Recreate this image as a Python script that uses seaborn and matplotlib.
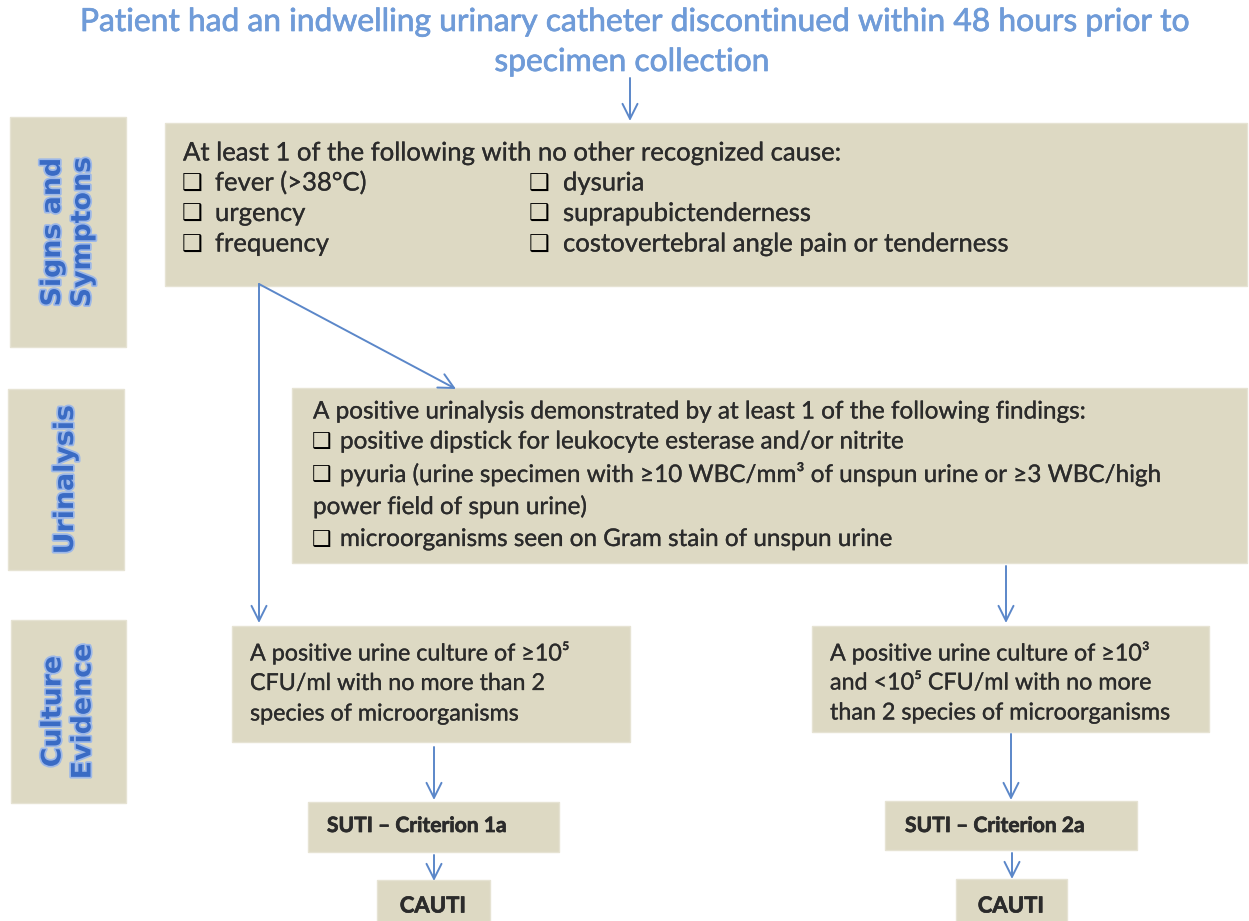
import matplotlib
matplotlib.use("Agg")
import matplotlib.pyplot as plt
import matplotlib.patches as mpatches
import matplotlib.patheffects as pe
import seaborn as sns

sns.set_theme(style="white")
plt.rcParams['font.family'] = ['Lato', 'DejaVu Sans']

# TEXT CONTENT:
title_lines = ["Patient had an indwelling urinary catheter discontinued within 48 hours prior to",
               "specimen collection"]
stage_labels = ["Signs and\nSymptons", "Urinalysis", "Culture\nEvidence"]
signs_header = "At least 1 of the following with no other recognized cause:"
signs_left = ["fever (>38°C)", "urgency", "frequency"]
signs_right = ["dysuria", "suprapubictenderness", "costovertebral angle pain or tenderness"]
uri_header = "A positive urinalysis demonstrated by at least 1 of the following findings:"
uri_items = ["positive dipstick for leukocyte esterase and/or nitrite",
             "pyuria (urine specimen with ≥10 WBC/mm³ of unspun urine or ≥3 WBC/high",
             None,
             "microorganisms seen on Gram stain of unspun urine"]
uri_wrap = "power field of spun urine)"
culture_1 = ["A positive urine culture of ≥10⁵", "CFU/ml with no more than 2",
             "species of microorganisms"]
culture_2 = ["A positive urine culture of ≥10³", "and <10⁵ CFU/ml with no more",
             "than 2 species of microorganisms"]
criteria = ["SUTI – Criterion 1a", "SUTI – Criterion 2a"]
outcome = "CAUTI"

# LAYOUT (pixel coords, y downward):
box_fill = "#DDD9C3"
blue_title = "#6F9BD8"
blue_label = "#3A6BC4"
arrow_col = "#5B87C9"
ink = "#2B2B2B"

label_boxes = [(10, 117, 126, 347), (8, 389, 124, 570), (11, 620, 126, 803)]
content_boxes = [(165, 123, 1247, 286), (292, 388, 1247, 563),
                 (232, 626, 630, 742), (812, 626, 1209, 732),
                 (308, 802, 559, 852), (885, 801, 1137, 850),
                 (377, 880, 490, 930), (956, 879, 1067, 930)]
arrows = [((630, 78), (630, 121)), ((259, 284), (259, 623)), ((259, 284), (456, 389)),
          ((1006, 566), (1006, 623)), ((434, 747), (434, 800)), ((434, 855), (434, 881)),
          ((1011, 734), (1011, 800)), ((1012, 853), (1012, 879))]

fig = plt.figure(figsize=(12.49, 9.21), dpi=100)
ax = fig.add_axes([0, 0, 1, 1])
ax.set_xlim(0, 1249)
ax.set_ylim(921, 0)
ax.axis('off')
renderer = fig.canvas.get_renderer()


def fit(text, width, weight='normal', family=None):
    t = ax.text(0, 0, text, fontsize=10, fontweight=weight, family=family)
    w = t.get_window_extent(renderer).width
    t.remove()
    return 10 * width / w


for x0, y0, x1, y1 in label_boxes + content_boxes:
    ax.add_patch(mpatches.Rectangle((x0, y0), x1 - x0, y1 - y0, facecolor=box_fill,
                                    edgecolor='#E6E3D3', lw=1))

thick_title = [pe.withStroke(linewidth=0.5, foreground=blue_title)]
thick_ink = [pe.withStroke(linewidth=0.2, foreground=ink)]
thick_bold = [pe.withStroke(linewidth=0.5, foreground=ink)]

# TITLE:
fs_title = fit(title_lines[0], 1112)
ax.text(634, 22, title_lines[0], fontsize=fs_title, color=blue_title, ha='center', va='center',
        path_effects=thick_title)
ax.text(632, 62, title_lines[1], fontsize=fs_title, color=blue_title, ha='center', va='center',
        path_effects=thick_title)

# STAGE LABELS:
lab_family = ['DejaVu Sans']
fs_lab = fit("Symptons", 150, 'bold', lab_family)
glow = [pe.withStroke(linewidth=2.5, foreground='#9DB8E8')]
for (x0, y0, x1, y1), lab in zip(label_boxes, stage_labels):
    ax.text((x0 + x1) / 2, (y0 + y1) / 2, lab, fontsize=fs_lab, fontweight='bold', color=blue_label,
            rotation=90, ha='center', va='center', multialignment='center', linespacing=1.2,
            family=lab_family, path_effects=glow)

box_mark = "❑"

# SIGNS AND SYMPTOMS:
fs_body = (fit(signs_header, 684) + fit(signs_right[2], 430)) / 2
ax.text(183, 153, signs_header, fontsize=fs_body, color=ink, va='center', path_effects=thick_ink)
for i, (l, r) in enumerate(zip(signs_left, signs_right)):
    y = 183 + i * 30.5
    ax.text(182, y, box_mark, fontsize=fs_body * 0.9, color='black', va='center', family='DejaVu Sans')
    ax.text(215, y, l, fontsize=fs_body, color=ink, va='center', path_effects=thick_ink)
    ax.text(529, y, box_mark, fontsize=fs_body * 0.9, color='black', va='center', family='DejaVu Sans')
    ax.text(563, y, r, fontsize=fs_body, color=ink, va='center', path_effects=thick_ink)

# URINALYSIS:
fs_uri = (fit(uri_header, 777) + fit(uri_items[1], 818)) / 2
ax.text(313, 412, uri_header, fontsize=fs_uri, color=ink, va='center', path_effects=thick_ink)
for i, item in enumerate(uri_items):
    y = 442 + i * 32.5
    if item is None:
        ax.text(313, y, uri_wrap, fontsize=fs_uri, color=ink, va='center', path_effects=thick_ink)
        continue
    ax.text(312, y, box_mark, fontsize=fs_uri * 0.9, color='black', va='center', family='DejaVu Sans')
    ax.text(340, y, item, fontsize=fs_uri, color=ink, va='center', path_effects=thick_ink)

# CULTURE EVIDENCE:
fs_cult = (fit(culture_2[2], 357) + fit(culture_2[0], 305)) / 2
for i, (a, b) in enumerate(zip(culture_1, culture_2)):
    ax.text(250, 653 + i * 30.5, a, fontsize=fs_cult, color=ink, va='center', path_effects=thick_ink)
    ax.text(830, 653 + i * 30, b, fontsize=fs_cult, color=ink, va='center', path_effects=thick_ink)

# CRITERIA AND OUTCOME:
fs_crit = fit(criteria[0], 180, 'bold')
ax.text(417, 826, criteria[0], fontsize=fs_crit, fontweight='bold', color=ink, ha='center', va='center',
        path_effects=thick_bold)
ax.text(995, 826, criteria[1], fontsize=fs_crit, fontweight='bold', color=ink, ha='center', va='center',
        path_effects=thick_bold)
ax.text(433, 906, outcome, fontsize=fs_crit * 1.05, fontweight='bold', color=ink, ha='center', va='center',
        path_effects=thick_bold)
ax.text(1011, 906, outcome, fontsize=fs_crit * 1.05, fontweight='bold', color=ink, ha='center', va='center',
        path_effects=thick_bold)

# ARROWS:
for start, end in arrows:
    ax.annotate("", xy=end, xytext=start,
                arrowprops=dict(arrowstyle='->,head_length=0.9,head_width=0.45', color=arrow_col,
                                lw=1.4, shrinkA=0, shrinkB=0))

plt.savefig("out.png", dpi=100)
